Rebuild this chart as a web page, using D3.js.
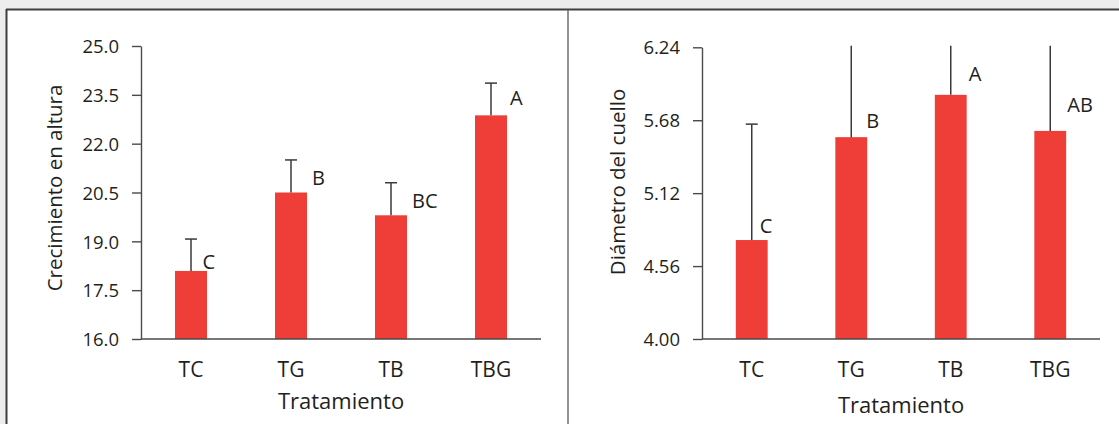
<!DOCTYPE html>
<html>
<head>
<meta charset="utf-8">
<script src="https://cdn.jsdelivr.net/npm/d3@7/dist/d3.min.js"></script>
<style>
  html, body { margin: 0; padding: 0; background: #ededed; }
  svg { display: block; }
  text { font-family: "Open Sans", "Noto Sans", sans-serif; fill: #231f20; }
</style>
</head>
<body>
<svg id="chart" width="1119" height="424"></svg>
<script>
// Treatments shared by both panels
const treatments = ["TC", "TG", "TB", "TBG"];

// Panel 1: height growth (mean and standard error)
const heightMean = [18.09, 20.5, 19.8, 22.87];
const heightErr = [0.98, 1.0, 1.0, 0.99];
const heightGroups = ["C", "B", "BC", "A"];
const heightTicks = [16.0, 17.5, 19.0, 20.5, 22.0, 23.5, 25.0];

// Panel 2: collar diameter (mean and standard error)
const collarMean = [4.76, 5.55, 5.875, 5.598];
const collarErr = [0.89, 0.89, 0.89, 0.89];
const collarGroups = ["C", "B", "A", "AB"];
const collarTicks = [4.00, 4.56, 5.12, 5.68, 6.24];

const svg = d3.select("#chart");
const W = 1119, H = 424;

// Frame: white sheet with a dark rule on top and on the left, split in two panels
svg.append("rect").attr("x", 7).attr("y", 10).attr("width", W - 7).attr("height", H - 10).attr("fill", "#ffffff");
svg.append("line").attr("x1", 6).attr("x2", W).attr("y1", 9.5).attr("y2", 9.5)
  .attr("stroke", "#3f3f3f").attr("stroke-width", 2);
svg.append("line").attr("x1", 6.5).attr("x2", 6.5).attr("y1", 9).attr("y2", H)
  .attr("stroke", "#3f3f3f").attr("stroke-width", 2);
svg.append("line").attr("x1", 568).attr("x2", 568).attr("y1", 10).attr("y2", H)
  .attr("stroke", "#6f6f6f").attr("stroke-width", 1.5);

function panel(opt) {
  const g = svg.append("g");
  const x = d3.scaleBand().domain(treatments).range([opt.left, opt.right])
    .paddingInner(0.68).paddingOuter(0.34);
  const y = d3.scaleLinear().domain([opt.ticks[0], opt.ticks[opt.ticks.length - 1]])
    .range([opt.bottom, opt.top]);

  const rows = treatments.map((t, i) => ({
    t, mean: opt.mean[i], err: opt.err[i], group: opt.groups[i], nudge: opt.nudge[i]
  }));

  // Bars
  g.selectAll("rect.bar").data(rows).join("rect")
    .attr("class", "bar")
    .attr("x", d => x(d.t))
    .attr("width", x.bandwidth())
    .attr("y", d => y(d.mean))
    .attr("height", d => y(opt.ticks[0]) - y(d.mean))
    .attr("fill", "#ee3e37");

  // Upper error whiskers; those beyond the axis top are cut at the plot edge
  const yTopLimit = y.range()[1] - 1.5;
  g.selectAll("line.err").data(rows).join("line")
    .attr("class", "err")
    .attr("x1", d => x(d.t) + x.bandwidth() / 2)
    .attr("x2", d => x(d.t) + x.bandwidth() / 2)
    .attr("y1", d => y(d.mean))
    .attr("y2", d => Math.max(y(d.mean + d.err), yTopLimit))
    .attr("stroke", "#3a3a3a").attr("stroke-width", 1.5);
  g.selectAll("line.cap").data(rows.filter(d => y(d.mean + d.err) > yTopLimit)).join("line")
    .attr("class", "cap")
    .attr("x1", d => x(d.t) + x.bandwidth() / 2 - 6)
    .attr("x2", d => x(d.t) + x.bandwidth() / 2 + 6)
    .attr("y1", d => y(d.mean + d.err))
    .attr("y2", d => y(d.mean + d.err))
    .attr("stroke", "#3a3a3a").attr("stroke-width", 1.5);

  // Significance letters
  g.selectAll("text.grp").data(rows).join("text")
    .attr("class", "grp")
    .attr("x", d => x(d.t) + x.bandwidth() / 2 + d.nudge[0])
    .attr("y", d => y(d.mean) + d.nudge[1])
    .attr("font-size", 20)
    .text(d => d.group);

  // Y axis
  const yAxis = g.append("g").attr("transform", `translate(${opt.left},0)`)
    .call(d3.axisLeft(y).tickValues(opt.ticks).tickFormat(d3.format(opt.fmt))
      .tickSize(9).tickSizeOuter(0).tickPadding(13));
  yAxis.select(".domain").attr("stroke", "#4a4a4a").attr("stroke-width", 1.4);
  yAxis.selectAll(".tick line").attr("stroke", "#4a4a4a").attr("stroke-width", 1.4);
  yAxis.selectAll(".tick text").attr("font-size", 18.5).attr("dy", "0.36em")
    .style("font-family", "'Open Sans', sans-serif").attr("fill", "#231f20");

  // X axis
  const xAxis = g.append("g").attr("transform", `translate(0,${opt.bottom})`)
    .call(d3.axisBottom(x).tickSize(0).tickSizeOuter(0).tickPadding(23));
  xAxis.select(".domain").attr("stroke", "#4a4a4a").attr("stroke-width", 1.4)
    .attr("d", `M${opt.left},0H${opt.right}`);
  xAxis.selectAll(".tick text").attr("font-size", 21)
    .style("font-family", "'Open Sans', sans-serif").attr("fill", "#231f20");

  // Axis titles
  g.append("text")
    .attr("x", (opt.left + opt.right) / 2)
    .attr("y", opt.xTitleY)
    .attr("text-anchor", "middle")
    .attr("font-size", 22)
    .text("Tratamiento");
  g.append("text")
    .attr("transform", `translate(${opt.yTitleX},${opt.yTitleCY}) rotate(-90)`)
    .attr("text-anchor", "middle")
    .attr("font-size", 20.5)
    .text(opt.yTitle);
}

panel({
  left: 141, right: 541, top: 46, bottom: 339,
  mean: heightMean, err: heightErr, groups: heightGroups, ticks: heightTicks, fmt: ".1f",
  nudge: [[11.5, -2], [21, -8], [21, -7], [19, -10]],
  yTitle: "Crecimiento en altura", yTitleX: 62, yTitleCY: 188, xTitleY: 409
});

panel({
  left: 702, right: 1100, top: 47.3, bottom: 339,
  mean: collarMean, err: collarErr, groups: collarGroups, ticks: collarTicks, fmt: ".2f",
  nudge: [[8, -7], [15, -9], [18, -14], [17, -19]],
  yTitle: "Diámetro del cuello", yTitleX: 625, yTitleCY: 182, xTitleY: 413
});
</script>
</body>
</html>
